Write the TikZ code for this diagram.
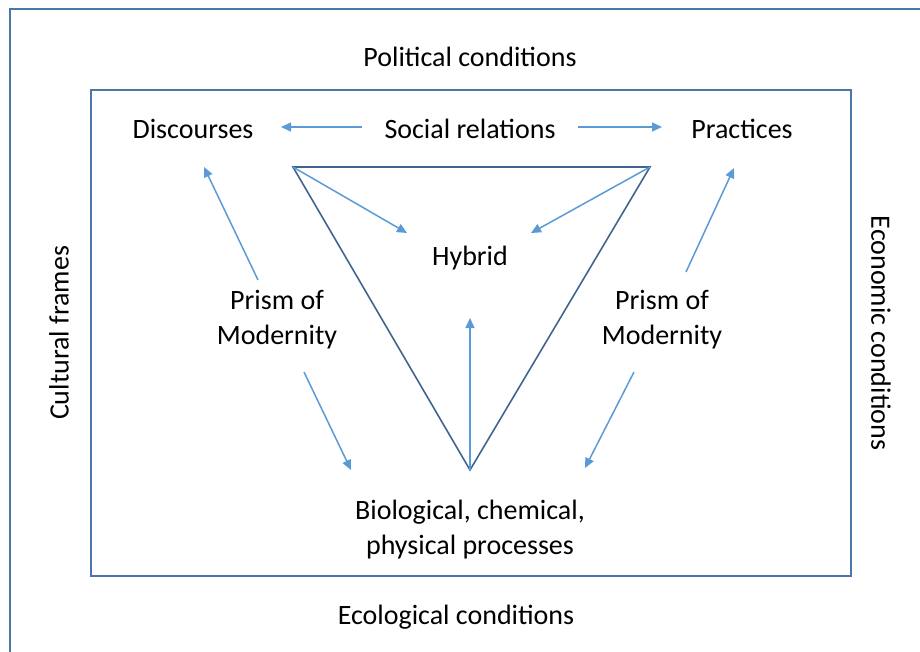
\documentclass[tikz,border=0pt]{standalone}
\usepackage{fontspec}
\setmainfont{Carlito}
\usetikzlibrary{arrows.meta}

\definecolor{frameblue}{HTML}{4A76A8}
\definecolor{triblue}{HTML}{41658F}
\definecolor{arrowblue}{HTML}{5B9BD5}

\tikzset{
  lbl/.style={font=\fontsize{28}{35}\selectfont, align=center, inner sep=0pt},
  frame/.style={draw=frameblue, line width=2pt},
  tri/.style={draw=triblue, line width=1.6pt, line join=miter},
  flow/.style={draw=arrowblue, line width=1.5pt,
    -{Triangle[length=10pt,width=9pt]}}
}

\begin{document}
\begin{tikzpicture}[x=1pt,y=-1pt]

    \useasboundingbox (0,0) rectangle (920,652);

    % Outer frame (runs off the page) and inner box
    \draw[frame] (10,652) -- (10,9) -- (920,9);
    \draw[frame] (91,90) rectangle (851,576);

    % Condition labels round the box
    \node[lbl] (pol) at (470,57) {Political conditions};
    \node[lbl] (eco) at (456,617) {Ecological conditions};
    \node[lbl, rotate=90] (cult) at (59,333) {Cultural frames};
    \node[lbl, rotate=-90] (econ) at (881,333) {Economic conditions};

    % Inner labels
    \node[lbl] (disc) at (193,129) {Discourses};
    \node[lbl] (soc) at (470,129) {Social relations};
    \node[lbl] (prac) at (742,129) {Practices};
    \node[lbl] (hyb) at (470,258) {Hybrid};
    \node[lbl] (prismL) at (277,320) {Prism of\\Modernity};
    \node[lbl] (prismR) at (662,320) {Prism of\\Modernity};
    \node[lbl] (bio) at (470,530) {Biological, chemical,\\physical processes};

    % Triangle corners
    \coordinate (tl) at (293,167);
    \coordinate (tr) at (650,167);
    \coordinate (bt) at (470,470);
    \draw[tri] (tl) -- (tr) -- (bt) -- cycle;

    % Arrow ends
    \coordinate (socL) at (362,127);
    \coordinate (socR) at (578,127);
    \coordinate (discIn) at (281,127);
    \coordinate (pracIn) at (662,127);
    \coordinate (hybL) at (407,233);
    \coordinate (hybR) at (531,233);
    \coordinate (hybB) at (470,318);
    \coordinate (pLtop) at (258,280);
    \coordinate (pLbot) at (304,372);
    \coordinate (pRtop) at (686,272);
    \coordinate (pRbot) at (634,372);
    \coordinate (discB) at (204,167);
    \coordinate (pracB) at (734,168);
    \coordinate (bioL) at (351,470);
    \coordinate (bioR) at (585,468);

    % Flows
    \draw[flow] (socL) -- (discIn);
    \draw[flow] (socR) -- (pracIn);
    \draw[flow] (tl) -- (hybL);
    \draw[flow] (tr) -- (hybR);
    \draw[flow] (bt) -- (hybB);
    \draw[flow] (pLtop) -- (discB);
    \draw[flow] (pLbot) -- (bioL);
    \draw[flow] (pRtop) -- (pracB);
    \draw[flow] (pRbot) -- (bioR);

  \end{tikzpicture}
\end{document}
